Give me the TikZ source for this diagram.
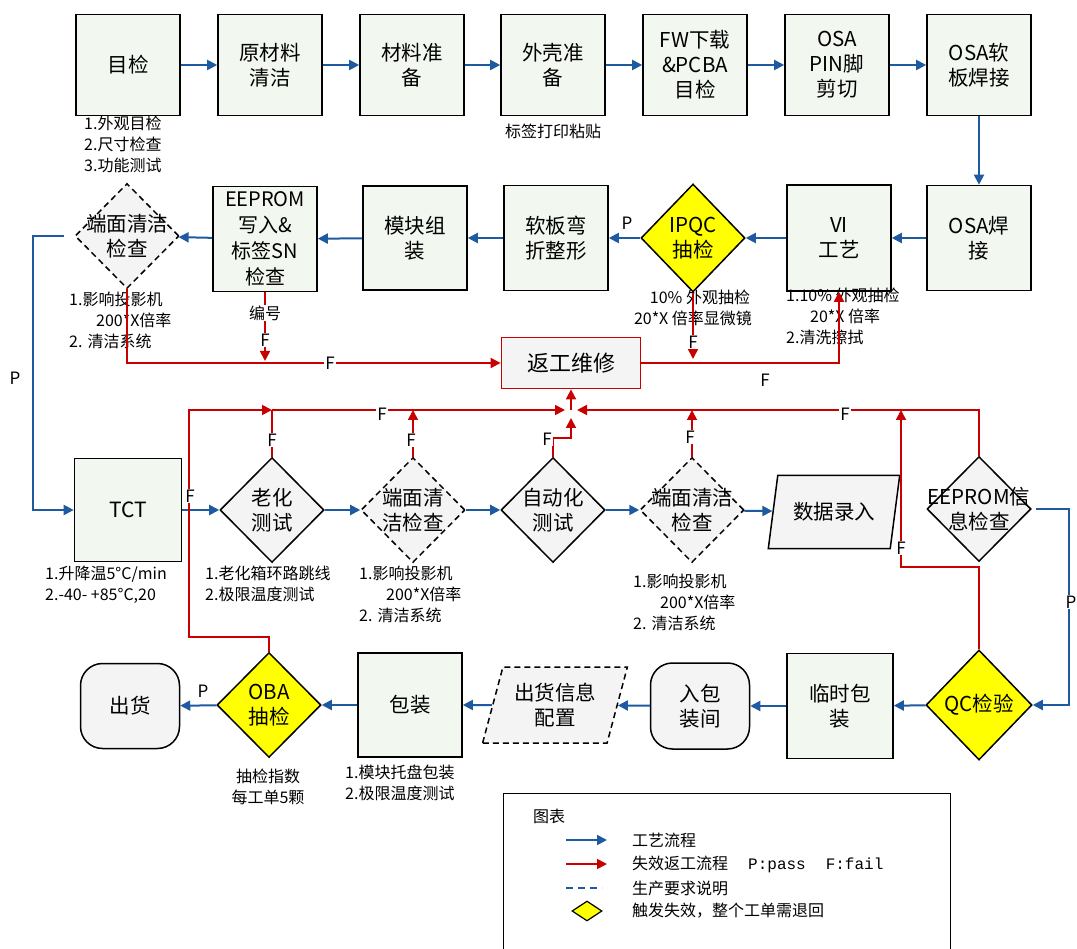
\documentclass[tikz,border=0pt]{standalone}
\usepackage{fontspec}
\setmainfont{Noto Sans CJK SC}
\newfontfamily\monofont{Liberation Mono}
\usetikzlibrary{shapes.geometric,arrows.meta}

\definecolor{flowblue}{RGB}{30,90,160}
\definecolor{failred}{RGB}{200,0,0}
\definecolor{boxfill}{RGB}{242,247,239}
\definecolor{grayfill}{RGB}{244,244,244}
\definecolor{qcyellow}{RGB}{255,255,0}

\newcommand\boxtext{\fontsize{20.5}{25}\selectfont}
\newcommand\notetext{\fontsize{16}{21}\selectfont}
\newcommand\flagtext{\fontsize{17}{17}\selectfont}

\begin{document}
\begin{tikzpicture}[x=1pt,y=-1pt,
  stepbox/.style={draw,line width=1.6pt,fill=boxfill,inner sep=0pt,align=center,font=\boxtext,minimum width=104pt,minimum height=101pt},
  check/.style={diamond,draw,line width=1.5pt,fill=grayfill,inner sep=0pt,minimum width=104pt,minimum height=105pt},
  dashcheck/.style={check,dash pattern=on 6pt off 4pt},
  qccheck/.style={check,fill=qcyellow},
  inside/.style={align=center,font=\boxtext,inner sep=0pt},
  roundbox/.style={draw,line width=1.5pt,fill=grayfill,rounded corners=22pt,align=center,font=\boxtext,minimum width=99pt,minimum height=86pt},
  databox/.style={trapezium,trapezium left angle=70,trapezium right angle=110,trapezium stretches=true,draw,line width=1.5pt,fill=grayfill,align=center,font=\boxtext,inner sep=0pt},
  note/.style={align=left,font=\notetext,inner sep=0pt,anchor=north west},
  flow/.style={draw=flowblue,line width=2pt,-{Triangle[length=10pt,width=10pt]}},
  fail/.style={draw=failred,line width=1.8pt,-{Triangle[length=10pt,width=10pt]}},
  failline/.style={draw=failred,line width=1.8pt},
  flag/.style={font=\flagtext,fill=white,inner sep=1pt},
  lgtext/.style={font=\fontsize{16}{16}\selectfont,anchor=west,inner sep=0pt},
]
\useasboundingbox (0,0) rectangle (1077,949);

% first row
\node[stepbox] (mj) at (128,65) {目检};
\node[stepbox] (ycl) at (270,65) {原材料\\清洁};
\node[stepbox] (clzb) at (412,65) {材料准\\备};
\node[stepbox] (wkzb) at (553,65) {外壳准\\备};
\node[stepbox] (fw) at (695,65) {FW下载\\\&PCBA\\目检};
\node[stepbox] (pin) at (837,65) {OSA\\PIN脚\\剪切};
\node[stepbox] (rbhj) at (979,65) {OSA软\\板焊接};

\node[note] (mjnote) at (84,116) {1.外观目检\\2.尺寸检查\\3.功能测试};
\node[font=\notetext,inner sep=0pt] (wknote) at (553,131) {标签打印粘贴};

% second row
\node[stepbox,minimum height=105pt] (hj) at (979,238) {OSA焊\\接};
\node[stepbox,minimum height=106pt] (vi) at (839,238) {VI\\工艺};
\node[qccheck,minimum height=108pt,label={[inside]center:IPQC\\抽检}] (ipqc) at (693,238) {};
\node[stepbox,minimum height=105pt] (zx) at (556,238) {软板弯\\折整形};
\node[stepbox,minimum height=104pt] (mk) at (415,238) {模块组\\装};
\node[stepbox,minimum height=105pt,font=\fontsize{20}{26}\selectfont] (ee) at (265,239) {EEPROM\\写入\&\\标签SN\\检查};
\node[dashcheck,label={[inside]center:端面清洁\\检查}] (dm1) at (127,236) {};

\node[note] (dm1note) at (69,292) {1.影响投影机\\\hspace*{27pt}200*X倍率\\2.\hspace*{5pt}清洁系统};
\node[font=\notetext,inner sep=0pt,align=center] (ipqcnote) at (693,308) {\hspace*{14pt}10\% 外观抽检\\20*X 倍率显微镜};
\node[note] (vinote) at (786,288) {1.10\% 外观抽检\\\hspace*{24pt}20*X 倍率\\2.清洗擦拭};

\node[draw=failred,line width=1.8pt,fill=grayfill,minimum width=139pt,minimum height=51pt,font=\fontsize{22}{22}\selectfont] (fx) at (571,363) {返工维修};

% third row
\node[stepbox,minimum width=107pt,minimum height=103pt,font=\fontsize{21}{24}\selectfont] (tct) at (128,510) {TCT};
\node[check,label={[inside]center:老化\\测试}] (lh) at (272,510) {};
\node[dashcheck,label={[inside]center:端面清\\洁检查}] (dm2) at (413,510) {};
\node[check,label={[inside]center:自动化\\测试}] (zd) at (553,510) {};
\node[dashcheck,label={[inside]center:端面清洁\\检查}] (dm3) at (692,510) {};
\node[databox,minimum width=132pt,minimum height=73pt] (sj) at (834,512) {数据录入};
\node[check,label={[inside]center:EEPROM信\\息检查}] (eei) at (979,509) {};

\node[note] (tctnote) at (45,566) {1.升降温5°C/min\\2.-40- +85°C,20};
\node[note] (lhnote) at (205,566) {1.老化箱环路跳线\\2.极限温度测试};
\node[note] (dm2note) at (359,566) {1.影响投影机\\\hspace*{27pt}200*X倍率\\2.\hspace*{5pt}清洁系统};
\node[note] (dm3note) at (633,574) {1.影响投影机\\\hspace*{27pt}200*X倍率\\2.\hspace*{5pt}清洁系统};

% fourth row
\node[qccheck,minimum width=106pt,minimum height=110pt,label={[inside]center:QC检验}] (qc) at (979,705) {};
\node[stepbox,minimum width=106pt,minimum height=105pt] (ls) at (840,706) {临时包\\装};
\node[roundbox] (rb) at (700,706) {入包\\装间};
\node[databox,dash pattern=on 6pt off 4pt,minimum width=145pt,minimum height=76pt] (ch) at (555,705) {出货信息\\配置};
\node[stepbox,minimum height=104pt] (bz) at (410,705) {包装};
\node[qccheck,label={[inside]center:OBA\\抽检}] (oba) at (269,705) {};
\node[roundbox,minimum height=85pt] (chh) at (130,706) {出货};

\node[font=\notetext,inner sep=0pt,align=center] (obanote) at (268,787) {抽检指数\\每工单5颗};
\node[note] (bznote) at (345,765) {1.模块托盘包装\\2.极限温度测试};

% process flow
\foreach \a/\b in {mj/ycl,ycl/clzb,clzb/wkzb,wkzb/fw,fw/pin,pin/rbhj,rbhj/hj,hj/vi,vi/ipqc,ipqc/zx,zx/mk,mk/ee,ee/dm1,
  tct/lh,lh/dm2,dm2/zd,zd/dm3,dm3/sj,qc/ls,ls/rb,rb/ch,ch/bz,bz/oba,oba/chh}
  \draw[flow] (\a) -- (\b);
\draw[flow] ([xshift=-10pt]dm1.west) -- ++(-31,0) |- (tct.west);
\draw[flow] ([xshift=4pt]eei.east) -- ++(33,0) |- (qc.east);
\node[font=\flagtext] (p1) at (627,223) {P};
\node[font=\flagtext] (p2) at (15,378) {P};
\node[flag] (p3) at (1071,602) {P};
\node[font=\flagtext] (p4) at (203,691) {P};

% rework
\draw[fail] (dm1.south) |- (fx.west);
\draw[fail,shorten >=2pt] (ee.south) -- (ee.south |- fx.west);
\draw[fail,shorten >=4pt] (ipqc.south) -- (ipqc.south |- fx.east);
\draw[fail] (fx.east) -| (vi.south);
\node[flag] (f1) at (330,363) {F};
\node[flag,font=\notetext] (bh) at (265,313) {编号};
\node[flag] (f2) at (265,340) {F};
\node[flag] (f3) at (693,342) {F};
\node[font=\flagtext,inner sep=1pt] (f4) at (765,380) {F};

\coordinate (jx) at (571,410);
\coordinate (jxw) at (565,410);
\coordinate (jxe) at (577,410);
\coordinate (jxs) at (571,418);
\coordinate (lb) at (189,410);
\coordinate (lhtop) at (272,410);
\coordinate (sjbus) at (901,410);
\draw[fail] (oba.north) -- ++(0,-15) -| (lb) -- (lhtop);
\draw[fail] (lhtop) -- (jxw);
\draw[failline] (lh.north) -- (lhtop);
\draw[fail] (dm2.north) -- (dm2.north |- jx);
\draw[fail] (zd.north) -- ++(0,-19) -| (jxs);
\draw[fail] (jx) -- (fx.south);
\draw[fail] (dm3.north) -- (dm3.north |- jx);
\draw[fail] (eei.north) |- (jxe);
\draw[fail] (qc.north) -- ++(0,-82) -| (sjbus);
\node[flag] (f5) at (190,496) {F};
\node[flag] (f6) at (272,440) {F};
\node[flag] (f7) at (382,414) {F};
\node[flag] (f8) at (411,440) {F};
\node[flag] (f9) at (547,439) {F};
\node[flag] (f10) at (690,437) {F};
\node[flag] (f11) at (845,414) {F};
\node[flag] (f12) at (901,548) {F};

% legend
\node[draw,line width=1.3pt,minimum width=447pt,minimum height=175pt,anchor=north west] (lgd) at (503,793) {};
\node[lgtext] (lg0) at (533,816) {图表};
\node[lgtext] (lg1) at (632,840) {工艺流程};
\node[lgtext] (lg2) at (632,864) {失效返工流程\hspace{20pt}{\monofont P:pass\hspace{20pt}F:fail}};
\node[lgtext] (lg3) at (632,888) {生产要求说明};
\node[lgtext] (lg4) at (632,911) {触发失效，整个工单需退回};
\draw[flow] ([xshift=-66pt]lg1.west) -- ([xshift=-25pt]lg1.west);
\draw[fail] ([xshift=-66pt]lg2.west) -- ([xshift=-25pt]lg2.west);
\draw[draw=flowblue,line width=2pt,dash pattern=on 7pt off 5pt] ([xshift=-66pt]lg3.west) -- ([xshift=-30pt]lg3.west);
\node[diamond,draw,line width=1.2pt,fill=qcyellow,minimum width=30pt,minimum height=20pt,inner sep=0pt] (lgmark) at ([xshift=-45pt]lg4.west) {};
\end{tikzpicture}
\end{document}
